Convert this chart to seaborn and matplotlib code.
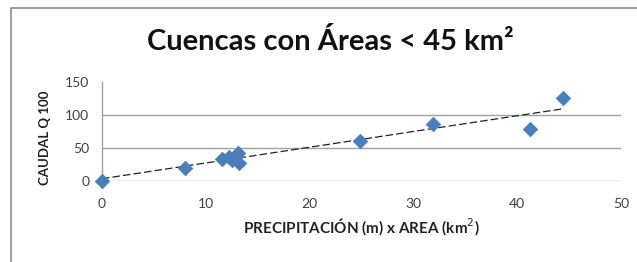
import numpy as np
import pandas as pd
import matplotlib
matplotlib.use("Agg")
import matplotlib.pyplot as plt
import seaborn as sns
from matplotlib.patches import Rectangle

# Datos
precip_area = [0.0, 8.0, 11.6, 12.2, 12.5, 12.9, 13.1, 13.2, 24.9, 31.9, 41.2, 44.4]
caudal_q100 = [0.0, 19.0, 34.0, 36.0, 32.0, 38.0, 42.0, 28.0, 61.0, 87.0, 78.0, 125.0]

x_ticks = [0, 10, 20, 30, 40, 50]
y_ticks = [0, 50, 100, 150]

df = pd.DataFrame({"x": precip_area, "y": caudal_q100})

sns.set_theme(style="white")
plt.rcParams["font.family"] = ["Lato", "DejaVu Sans"]

fig = plt.figure(figsize=(6.37, 2.62), dpi=100)
ax = fig.add_axes([0.1601, 0.3092, 0.8148, 0.378])

# Linea de tendencia + puntos
sns.regplot(data=df, x="x", y="y", ax=ax, ci=None, scatter=False,
            line_kws=dict(color="#222222", lw=0.9, ls=(0, (6, 2.5))))
sns.scatterplot(data=df, x="x", y="y", ax=ax, marker="D", s=55,
                color="#4A7EBB", edgecolor="#4A7EBB", linewidth=0.5,
                zorder=3, clip_on=False)

ax.set_xlim(0, 50)
ax.set_ylim(0, 150)
ax.set_xticks(x_ticks)
ax.set_yticks(y_ticks)
ax.tick_params(axis="both", length=0, labelsize=10, colors="#404040")
ax.tick_params(axis="x", pad=12)
ax.tick_params(axis="y", pad=9)

for v in [0, 50, 100]:
    ax.axhline(v, color="#A0A0A0", lw=1.0, zorder=1)
for s in ["top", "right", "bottom"]:
    ax.spines[s].set_visible(False)
ax.spines["left"].set_color("#A0A0A0")
ax.spines["left"].set_linewidth(1.0)

ax.set_xlabel("PRECIPITACIÓN (m) x AREA (km$^2$)", fontsize=11, fontweight="bold",
              color="#222222", labelpad=5)
ax.set_ylabel("")
fig.text(0.071, 0.475, "CAUDAL Q 100", rotation=90, ha="center", va="center",
         fontsize=9.5, fontweight="bold", color="#222222")

fig.text(0.518, 0.84, "Cuencas con Áreas < 45 km²", ha="center", va="center",
         fontsize=21, fontweight="bold", color="#111111")

# marco exterior
fig.patches.append(Rectangle((11 / 637, -0.1), 1.2, 1 - 8 / 262 + 0.1,
                             transform=fig.transFigure, fill=False,
                             edgecolor="#8C8C8C", lw=1.2))

fig.savefig("out.png", dpi=100)
